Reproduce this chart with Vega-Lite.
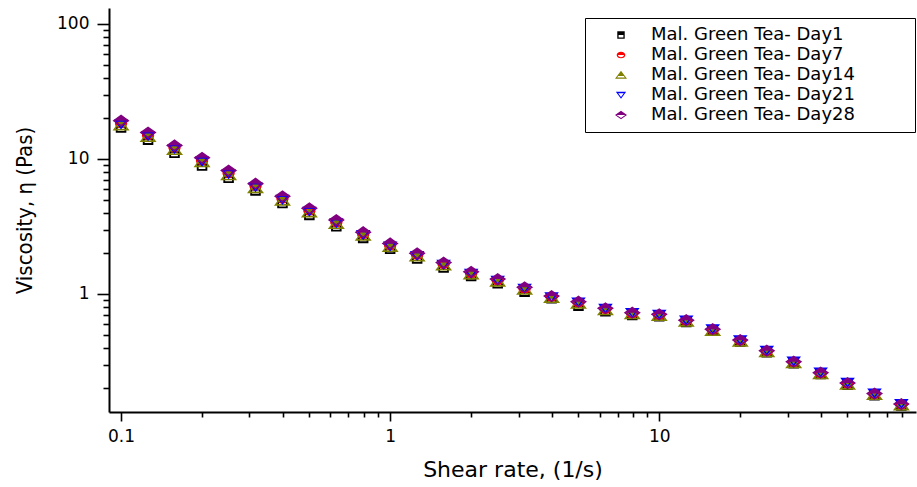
{
  "$schema": "https://vega.github.io/schema/vega-lite/v6.json",
  "width": 807,
  "height": 404,
  "autosize": {"type": "none"},
  "padding": {"left": 109, "top": 8, "right": 1, "bottom": 75},
  "background": "white",
  "config": {"view": {"stroke": null}},
  "data": {
    "values": [
      {"rate": 0.1, "eta": 17.1, "s": "Mal. Green Tea- Day1"},
      {"rate": 0.126, "eta": 13.9, "s": "Mal. Green Tea- Day1"},
      {"rate": 0.158, "eta": 11.1, "s": "Mal. Green Tea- Day1"},
      {"rate": 0.2, "eta": 8.95, "s": "Mal. Green Tea- Day1"},
      {"rate": 0.251, "eta": 7.25, "s": "Mal. Green Tea- Day1"},
      {"rate": 0.316, "eta": 5.85, "s": "Mal. Green Tea- Day1"},
      {"rate": 0.398, "eta": 4.72, "s": "Mal. Green Tea- Day1"},
      {"rate": 0.501, "eta": 3.85, "s": "Mal. Green Tea- Day1"},
      {"rate": 0.631, "eta": 3.17, "s": "Mal. Green Tea- Day1"},
      {"rate": 0.794, "eta": 2.6, "s": "Mal. Green Tea- Day1"},
      {"rate": 1, "eta": 2.16, "s": "Mal. Green Tea- Day1"},
      {"rate": 1.26, "eta": 1.83, "s": "Mal. Green Tea- Day1"},
      {"rate": 1.58, "eta": 1.57, "s": "Mal. Green Tea- Day1"},
      {"rate": 2, "eta": 1.36, "s": "Mal. Green Tea- Day1"},
      {"rate": 2.51, "eta": 1.2, "s": "Mal. Green Tea- Day1"},
      {"rate": 3.16, "eta": 1.04, "s": "Mal. Green Tea- Day1"},
      {"rate": 3.98, "eta": 0.93, "s": "Mal. Green Tea- Day1"},
      {"rate": 5.01, "eta": 0.82, "s": "Mal. Green Tea- Day1"},
      {"rate": 6.31, "eta": 0.745, "s": "Mal. Green Tea- Day1"},
      {"rate": 7.94, "eta": 0.7, "s": "Mal. Green Tea- Day1"},
      {"rate": 10, "eta": 0.685, "s": "Mal. Green Tea- Day1"},
      {"rate": 12.6, "eta": 0.62, "s": "Mal. Green Tea- Day1"},
      {"rate": 15.8, "eta": 0.535, "s": "Mal. Green Tea- Day1"},
      {"rate": 20, "eta": 0.445, "s": "Mal. Green Tea- Day1"},
      {"rate": 25.1, "eta": 0.37, "s": "Mal. Green Tea- Day1"},
      {"rate": 31.6, "eta": 0.307, "s": "Mal. Green Tea- Day1"},
      {"rate": 39.8, "eta": 0.255, "s": "Mal. Green Tea- Day1"},
      {"rate": 50.1, "eta": 0.213, "s": "Mal. Green Tea- Day1"},
      {"rate": 63.1, "eta": 0.178, "s": "Mal. Green Tea- Day1"},
      {"rate": 79.4, "eta": 0.149, "s": "Mal. Green Tea- Day1"},

      {"rate": 0.1, "eta": 18.4, "s": "Mal. Green Tea- Day7"},
      {"rate": 0.126, "eta": 15.0, "s": "Mal. Green Tea- Day7"},
      {"rate": 0.158, "eta": 12.1, "s": "Mal. Green Tea- Day7"},
      {"rate": 0.2, "eta": 9.75, "s": "Mal. Green Tea- Day7"},
      {"rate": 0.251, "eta": 7.85, "s": "Mal. Green Tea- Day7"},
      {"rate": 0.316, "eta": 6.3, "s": "Mal. Green Tea- Day7"},
      {"rate": 0.398, "eta": 5.08, "s": "Mal. Green Tea- Day7"},
      {"rate": 0.501, "eta": 4.14, "s": "Mal. Green Tea- Day7"},
      {"rate": 0.631, "eta": 3.39, "s": "Mal. Green Tea- Day7"},
      {"rate": 0.794, "eta": 2.77, "s": "Mal. Green Tea- Day7"},
      {"rate": 1, "eta": 2.29, "s": "Mal. Green Tea- Day7"},
      {"rate": 1.26, "eta": 1.94, "s": "Mal. Green Tea- Day7"},
      {"rate": 1.58, "eta": 1.66, "s": "Mal. Green Tea- Day7"},
      {"rate": 2, "eta": 1.42, "s": "Mal. Green Tea- Day7"},
      {"rate": 2.51, "eta": 1.26, "s": "Mal. Green Tea- Day7"},
      {"rate": 3.16, "eta": 1.09, "s": "Mal. Green Tea- Day7"},
      {"rate": 3.98, "eta": 0.95, "s": "Mal. Green Tea- Day7"},
      {"rate": 5.01, "eta": 0.86, "s": "Mal. Green Tea- Day7"},
      {"rate": 6.31, "eta": 0.77, "s": "Mal. Green Tea- Day7"},
      {"rate": 7.94, "eta": 0.715, "s": "Mal. Green Tea- Day7"},
      {"rate": 10, "eta": 0.69, "s": "Mal. Green Tea- Day7"},
      {"rate": 12.6, "eta": 0.63, "s": "Mal. Green Tea- Day7"},
      {"rate": 15.8, "eta": 0.54, "s": "Mal. Green Tea- Day7"},
      {"rate": 20, "eta": 0.45, "s": "Mal. Green Tea- Day7"},
      {"rate": 25.1, "eta": 0.375, "s": "Mal. Green Tea- Day7"},
      {"rate": 31.6, "eta": 0.311, "s": "Mal. Green Tea- Day7"},
      {"rate": 39.8, "eta": 0.258, "s": "Mal. Green Tea- Day7"},
      {"rate": 50.1, "eta": 0.216, "s": "Mal. Green Tea- Day7"},
      {"rate": 63.1, "eta": 0.181, "s": "Mal. Green Tea- Day7"},
      {"rate": 79.4, "eta": 0.151, "s": "Mal. Green Tea- Day7"},

      {"rate": 0.1, "eta": 17.8, "s": "Mal. Green Tea- Day14"},
      {"rate": 0.126, "eta": 14.6, "s": "Mal. Green Tea- Day14"},
      {"rate": 0.158, "eta": 11.7, "s": "Mal. Green Tea- Day14"},
      {"rate": 0.2, "eta": 9.5, "s": "Mal. Green Tea- Day14"},
      {"rate": 0.251, "eta": 7.6, "s": "Mal. Green Tea- Day14"},
      {"rate": 0.316, "eta": 6.1, "s": "Mal. Green Tea- Day14"},
      {"rate": 0.398, "eta": 4.93, "s": "Mal. Green Tea- Day14"},
      {"rate": 0.501, "eta": 4.03, "s": "Mal. Green Tea- Day14"},
      {"rate": 0.631, "eta": 3.31, "s": "Mal. Green Tea- Day14"},
      {"rate": 0.794, "eta": 2.71, "s": "Mal. Green Tea- Day14"},
      {"rate": 1, "eta": 2.24, "s": "Mal. Green Tea- Day14"},
      {"rate": 1.26, "eta": 1.9, "s": "Mal. Green Tea- Day14"},
      {"rate": 1.58, "eta": 1.63, "s": "Mal. Green Tea- Day14"},
      {"rate": 2, "eta": 1.4, "s": "Mal. Green Tea- Day14"},
      {"rate": 2.51, "eta": 1.24, "s": "Mal. Green Tea- Day14"},
      {"rate": 3.16, "eta": 1.08, "s": "Mal. Green Tea- Day14"},
      {"rate": 3.98, "eta": 0.94, "s": "Mal. Green Tea- Day14"},
      {"rate": 5.01, "eta": 0.85, "s": "Mal. Green Tea- Day14"},
      {"rate": 6.31, "eta": 0.76, "s": "Mal. Green Tea- Day14"},
      {"rate": 7.94, "eta": 0.71, "s": "Mal. Green Tea- Day14"},
      {"rate": 10, "eta": 0.69, "s": "Mal. Green Tea- Day14"},
      {"rate": 12.6, "eta": 0.625, "s": "Mal. Green Tea- Day14"},
      {"rate": 15.8, "eta": 0.535, "s": "Mal. Green Tea- Day14"},
      {"rate": 20, "eta": 0.445, "s": "Mal. Green Tea- Day14"},
      {"rate": 25.1, "eta": 0.372, "s": "Mal. Green Tea- Day14"},
      {"rate": 31.6, "eta": 0.308, "s": "Mal. Green Tea- Day14"},
      {"rate": 39.8, "eta": 0.256, "s": "Mal. Green Tea- Day14"},
      {"rate": 50.1, "eta": 0.214, "s": "Mal. Green Tea- Day14"},
      {"rate": 63.1, "eta": 0.179, "s": "Mal. Green Tea- Day14"},
      {"rate": 79.4, "eta": 0.15, "s": "Mal. Green Tea- Day14"},

      {"rate": 0.1, "eta": 18.1, "s": "Mal. Green Tea- Day21"},
      {"rate": 0.126, "eta": 14.8, "s": "Mal. Green Tea- Day21"},
      {"rate": 0.158, "eta": 11.9, "s": "Mal. Green Tea- Day21"},
      {"rate": 0.2, "eta": 9.6, "s": "Mal. Green Tea- Day21"},
      {"rate": 0.251, "eta": 7.75, "s": "Mal. Green Tea- Day21"},
      {"rate": 0.316, "eta": 6.2, "s": "Mal. Green Tea- Day21"},
      {"rate": 0.398, "eta": 5.0, "s": "Mal. Green Tea- Day21"},
      {"rate": 0.501, "eta": 4.08, "s": "Mal. Green Tea- Day21"},
      {"rate": 0.631, "eta": 3.35, "s": "Mal. Green Tea- Day21"},
      {"rate": 0.794, "eta": 2.74, "s": "Mal. Green Tea- Day21"},
      {"rate": 1, "eta": 2.26, "s": "Mal. Green Tea- Day21"},
      {"rate": 1.26, "eta": 1.92, "s": "Mal. Green Tea- Day21"},
      {"rate": 1.58, "eta": 1.65, "s": "Mal. Green Tea- Day21"},
      {"rate": 2, "eta": 1.42, "s": "Mal. Green Tea- Day21"},
      {"rate": 2.51, "eta": 1.26, "s": "Mal. Green Tea- Day21"},
      {"rate": 3.16, "eta": 1.1, "s": "Mal. Green Tea- Day21"},
      {"rate": 3.98, "eta": 0.95, "s": "Mal. Green Tea- Day21"},
      {"rate": 5.01, "eta": 0.87, "s": "Mal. Green Tea- Day21"},
      {"rate": 6.31, "eta": 0.78, "s": "Mal. Green Tea- Day21"},
      {"rate": 7.94, "eta": 0.725, "s": "Mal. Green Tea- Day21"},
      {"rate": 10, "eta": 0.705, "s": "Mal. Green Tea- Day21"},
      {"rate": 12.6, "eta": 0.64, "s": "Mal. Green Tea- Day21"},
      {"rate": 15.8, "eta": 0.55, "s": "Mal. Green Tea- Day21"},
      {"rate": 20, "eta": 0.457, "s": "Mal. Green Tea- Day21"},
      {"rate": 25.1, "eta": 0.382, "s": "Mal. Green Tea- Day21"},
      {"rate": 31.6, "eta": 0.317, "s": "Mal. Green Tea- Day21"},
      {"rate": 39.8, "eta": 0.263, "s": "Mal. Green Tea- Day21"},
      {"rate": 50.1, "eta": 0.221, "s": "Mal. Green Tea- Day21"},
      {"rate": 63.1, "eta": 0.184, "s": "Mal. Green Tea- Day21"},
      {"rate": 79.4, "eta": 0.154, "s": "Mal. Green Tea- Day21"},

      {"rate": 0.1, "eta": 19.2, "s": "Mal. Green Tea- Day28"},
      {"rate": 0.126, "eta": 15.7, "s": "Mal. Green Tea- Day28"},
      {"rate": 0.158, "eta": 12.6, "s": "Mal. Green Tea- Day28"},
      {"rate": 0.2, "eta": 10.2, "s": "Mal. Green Tea- Day28"},
      {"rate": 0.251, "eta": 8.2, "s": "Mal. Green Tea- Day28"},
      {"rate": 0.316, "eta": 6.56, "s": "Mal. Green Tea- Day28"},
      {"rate": 0.398, "eta": 5.29, "s": "Mal. Green Tea- Day28"},
      {"rate": 0.501, "eta": 4.31, "s": "Mal. Green Tea- Day28"},
      {"rate": 0.631, "eta": 3.53, "s": "Mal. Green Tea- Day28"},
      {"rate": 0.794, "eta": 2.87, "s": "Mal. Green Tea- Day28"},
      {"rate": 1, "eta": 2.37, "s": "Mal. Green Tea- Day28"},
      {"rate": 1.26, "eta": 2.0, "s": "Mal. Green Tea- Day28"},
      {"rate": 1.58, "eta": 1.71, "s": "Mal. Green Tea- Day28"},
      {"rate": 2, "eta": 1.46, "s": "Mal. Green Tea- Day28"},
      {"rate": 2.51, "eta": 1.29, "s": "Mal. Green Tea- Day28"},
      {"rate": 3.16, "eta": 1.12, "s": "Mal. Green Tea- Day28"},
      {"rate": 3.98, "eta": 0.966, "s": "Mal. Green Tea- Day28"},
      {"rate": 5.01, "eta": 0.877, "s": "Mal. Green Tea- Day28"},
      {"rate": 6.31, "eta": 0.784, "s": "Mal. Green Tea- Day28"},
      {"rate": 7.94, "eta": 0.727, "s": "Mal. Green Tea- Day28"},
      {"rate": 10, "eta": 0.707, "s": "Mal. Green Tea- Day28"},
      {"rate": 12.6, "eta": 0.639, "s": "Mal. Green Tea- Day28"},
      {"rate": 15.8, "eta": 0.548, "s": "Mal. Green Tea- Day28"},
      {"rate": 20, "eta": 0.456, "s": "Mal. Green Tea- Day28"},
      {"rate": 25.1, "eta": 0.38, "s": "Mal. Green Tea- Day28"},
      {"rate": 31.6, "eta": 0.315, "s": "Mal. Green Tea- Day28"},
      {"rate": 39.8, "eta": 0.261, "s": "Mal. Green Tea- Day28"},
      {"rate": 50.1, "eta": 0.219, "s": "Mal. Green Tea- Day28"},
      {"rate": 63.1, "eta": 0.183, "s": "Mal. Green Tea- Day28"},
      {"rate": 79.4, "eta": 0.153, "s": "Mal. Green Tea- Day28"}
    ]
  },
  "mark": {"type": "point", "filled": true, "opacity": 1, "size": 289, "strokeWidth": 0},
  "encoding": {
    "x": {
      "field": "rate", "type": "quantitative",
      "scale": {"type": "log", "domain": [0.0902, 90], "nice": false},
      "axis": {
        "title": "Shear rate, (1/s)",
        "titleFont": "DejaVu Sans", "titleFontSize": 22, "titleFontWeight": "normal", "titleColor": "black", "titlePadding": 15,
        "values": [0.1,0.2,0.3,0.4,0.5,0.6,0.7,0.8,0.9,1,2,3,4,5,6,7,8,9,10,20,30,40,50,60,70,80],
        "format": "~g",
        "labelExpr": "indexof(['0.1','1','10'], datum.label) >= 0 ? datum.label : ''",
        "labelFont": "DejaVu Sans", "labelFontSize": 17, "labelColor": "black", "labelPadding": 7,
        "labelOverlap": false, "labelFlush": false,
        "tickSize": {"condition": {"test": "indexof([0.1,1,10], datum.value) >= 0", "value": 9}, "value": 5},
        "tickColor": "black", "tickWidth": 1.6,
        "domainColor": "black", "domainWidth": 2,
        "grid": false
      }
    },
    "y": {
      "field": "eta", "type": "quantitative",
      "scale": {"type": "log", "domain": [0.1336, 131.3], "nice": false},
      "axis": {
        "title": "Viscosity, η (Pas)",
        "titleFont": "Liberation Sans Narrow, DejaVu Sans Condensed, Liberation Sans", "titleFontSize": 22, "titleFontWeight": "normal", "titleColor": "black", "titlePadding": 20,
        "values": [0.2,0.3,0.4,0.5,0.6,0.7,0.8,0.9,1,2,3,4,5,6,7,8,9,10,20,30,40,50,60,70,80,90,100],
        "format": "~g",
        "labelExpr": "indexof(['1','10','100'], datum.label) >= 0 ? datum.label : ''",
        "labelFont": "DejaVu Sans", "labelFontSize": 17, "labelColor": "black", "labelPadding": 8,
        "labelOverlap": false, "labelFlush": false,
        "tickSize": {"condition": {"test": "indexof([1,10,100], datum.value) >= 0", "value": 12}, "value": 6},
        "tickColor": "black", "tickWidth": 1.6,
        "domainColor": "black", "domainWidth": 2,
        "grid": false
      }
    },
    "color": {
      "field": "s", "type": "nominal",
      "scale": {
        "domain": ["Mal. Green Tea- Day1", "Mal. Green Tea- Day7", "Mal. Green Tea- Day14", "Mal. Green Tea- Day21", "Mal. Green Tea- Day28"],
        "range": ["#000000", "#ff0000", "#808000", "#0000ff", "#800080"]
      },
      "legend": {
        "title": null, "orient": "none", "legendX": 476, "legendY": 10,
        "strokeColor": "black", "fillColor": "white", "padding": 8,
        "symbolSize": 144, "symbolStrokeWidth": 0, "symbolOffset": 19,
        "labelFont": "DejaVu Sans", "labelFontSize": 18, "labelColor": "black", "labelOffset": 21, "labelLimit": 500,
        "labelExpr": "datum.label + '\u00a0\u00a0\u00a0\u00a0\u00a0\u00a0\u00a0\u00a0\u00a0\u200b'",
        "rowPadding": 2
      }
    },
    "shape": {
      "field": "s", "type": "nominal",
      "scale": {
        "domain": ["Mal. Green Tea- Day1", "Mal. Green Tea- Day7", "Mal. Green Tea- Day14", "Mal. Green Tea- Day21", "Mal. Green Tea- Day28"],
        "range": [
          "M-0.62,-0.62H0.62V0.62H-0.62Z M-0.4,0V0.4H0.4V0Z",
          "M-0.72,0A0.72,0.56 0 1,1 0.72,0A0.72,0.56 0 1,1 -0.72,0Z M-0.5,0A0.5,0.36 0 0,0 0.5,0Z",
          "M0,-0.72L1,0.62L-1,0.62Z M-0.46,0.18L-0.64,0.42L0.64,0.42L0.46,0.18Z",
          "M-0.86,-0.56L0.86,-0.56L0,0.62Z M-0.47,-0.3L0,0.34L0.47,-0.3Z",
          "M0,-0.72L1,0L0,0.72L-1,0Z M-0.72,0L0,0.48L0.72,0Z"
        ]
      },
      "legend": {
        "title": null, "orient": "none", "legendX": 476, "legendY": 10,
        "strokeColor": "black", "fillColor": "white", "padding": 8,
        "symbolSize": 144, "symbolStrokeWidth": 0, "symbolOffset": 19,
        "labelFont": "DejaVu Sans", "labelFontSize": 18, "labelColor": "black", "labelOffset": 21, "labelLimit": 500,
        "labelExpr": "datum.label + '\u00a0\u00a0\u00a0\u00a0\u00a0\u00a0\u00a0\u00a0\u00a0\u200b'",
        "rowPadding": 2
      }
    }
  }
}
